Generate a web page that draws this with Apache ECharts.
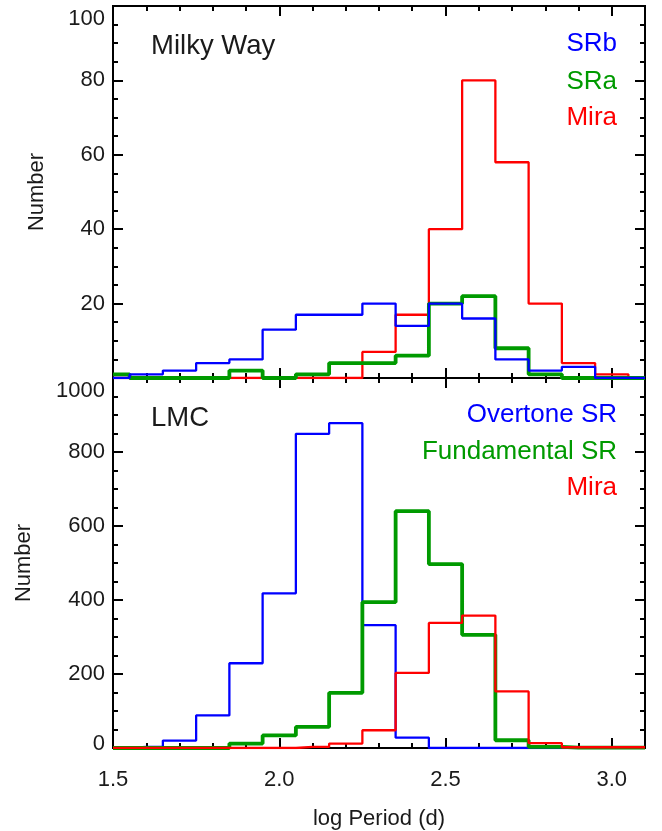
<!DOCTYPE html>
<html>
<head>
<meta charset="utf-8">
<script src="https://cdn.jsdelivr.net/npm/echarts@6/dist/echarts.min.js"></script>
<style>
html,body{margin:0;padding:0;background:#fff;}
#main{width:662px;height:831px;}
</style>
</head>
<body>
<div id="main"></div>
<script>
// Bin centers (log Period, bin width 0.1)
const binCenters = [1.5, 1.6, 1.7, 1.8, 1.9, 2.0, 2.1, 2.2, 2.3, 2.4, 2.5, 2.6, 2.7, 2.8, 2.9, 3.0, 3.1];

// Milky Way
const mwSRb  = [0, 1, 2, 4, 5, 13, 17, 17, 20, 14, 20, 16, 5, 2, 3, 0, 0];
const mwSRa  = [1, 0, 0, 0, 2, 0, 1, 4, 4, 6, 20, 22, 8, 1, 0, 0, 0];
const mwMira = [0, 0, 0, 0, 0, 0, 0, 0, 7, 17, 40, 80, 58, 20, 4, 1, 0];

// LMC
const lmcOvertone    = [0, 3, 20, 88, 229, 418, 849, 878, 332, 28, 0, 0, 0, 0, 0, 0, 0];
const lmcFundamental = [0, 0, 0, 0, 12, 34, 57, 149, 394, 640, 497, 306, 21, 3, 1, 1, 1];
const lmcMira        = [0, 0, 0, 0, 0, 0, 3, 12, 48, 203, 338, 358, 153, 13, 2, 2, 2];

const xMin = 1.5, xMax = 3.1;
const topYMax = 100, topYInterval = 20;
const botYMax = 1000, botYInterval = 200;

const BLUE = '#0000ff', GREEN = '#009a00', RED = '#ff0000';
const FONT = 'Liberation Sans, Helvetica, Arial, sans-serif';
const TXT = '#1a1a1a';

function pairs(vals) { return binCenters.map((c, i) => [c, vals[i]]); }

const grids = [
  {left: 113, top: 6, width: 532, height: 372},
  {left: 113, top: 378, width: 532, height: 371}
].map(g => Object.assign(g, {show: true, borderColor: '#000', borderWidth: 2, backgroundColor: 'transparent'}));

const xAxes = [];
[0, 1].forEach(gi => {
  const base = {type: 'value', gridIndex: gi, min: xMin, max: xMax, splitLine: {show: false},
    axisLine: {show: false, onZero: false}};
  // bottom major
  xAxes.push(Object.assign({}, base, {position: 'bottom', interval: 0.5,
    axisTick: {show: true, inside: true, length: 10, lineStyle: {color: '#000', width: 2}},
    axisLabel: {show: gi === 1, margin: 21, fontSize: 22, fontFamily: FONT, color: TXT,
      formatter: v => (Math.abs(v * 2 - Math.round(v * 2)) < 1e-6 ? v.toFixed(1) : '')},
    name: gi === 1 ? 'log Period (d)' : '', nameLocation: 'middle', nameGap: 60,
    nameTextStyle: {fontSize: 22, fontFamily: FONT, color: TXT}}));
  // bottom minor
  xAxes.push(Object.assign({}, base, {position: 'bottom', interval: 0.1,
    axisTick: {show: true, inside: true, length: 5, lineStyle: {color: '#000', width: 2}},
    axisLabel: {show: false}}));
  // top major
  xAxes.push(Object.assign({}, base, {position: 'top', interval: 0.5,
    axisTick: {show: true, inside: true, length: 10, lineStyle: {color: '#000', width: 2}},
    axisLabel: {show: false}}));
  // top minor
  xAxes.push(Object.assign({}, base, {position: 'top', interval: 0.1,
    axisTick: {show: true, inside: true, length: 5, lineStyle: {color: '#000', width: 2}},
    axisLabel: {show: false}}));
});

const labelRich = {
  mx: {fontSize: 22, fontFamily: FONT, color: TXT, padding: [26, 0, 0, 0]},
  mn: {fontSize: 22, fontFamily: FONT, color: TXT, padding: [0, 0, 8, 0]}
};

const yAxes = [];
[[0, topYMax, topYInterval, 65], [1, botYMax, botYInterval, 78]].forEach(([gi, ymax, yint, gap]) => {
  const base = {type: 'value', gridIndex: gi, min: 0, max: ymax, interval: yint,
    splitLine: {show: false}, axisLine: {show: false, onZero: false},
    axisTick: {show: true, inside: true, length: 10, lineStyle: {color: '#000', width: 2}},
    minorTick: {show: true, splitNumber: 4, length: 5, lineStyle: {color: '#000', width: 2}}};
  yAxes.push(Object.assign({}, base, {position: 'left',
    axisLabel: {show: true, margin: 8, fontSize: 22, fontFamily: FONT, color: TXT,
      showMinLabel: gi === 1, rich: labelRich,
      formatter: v => (v === ymax ? '{mx|' + v + '}' : (v === 0 ? '{mn|0}' : String(v)))},
    name: 'Number', nameLocation: 'middle', nameGap: gap, nameRotate: 90,
    nameTextStyle: {fontSize: 22, fontFamily: FONT, color: TXT}}));
  yAxes.push(Object.assign({}, base, {position: 'right', axisLabel: {show: false}}));
});

function stepSeries(gi, vals, color, width, z) {
  return {type: 'line', step: 'middle', xAxisIndex: gi * 4, yAxisIndex: gi * 2,
    data: pairs(vals), showSymbol: false, symbol: 'none', z: z,
    lineStyle: {color: color, width: width}, clip: true};
}

const series = [
  stepSeries(0, mwMira, RED, 2.3, 2),
  stepSeries(0, mwSRa, GREEN, 3.8, 3),
  stepSeries(0, mwSRb, BLUE, 2.3, 4),
  stepSeries(1, lmcOvertone, BLUE, 2.3, 2),
  stepSeries(1, lmcFundamental, GREEN, 3.8, 3),
  stepSeries(1, lmcMira, RED, 2.3, 4)
];

function txt(text, x, y, color, align, size) {
  return {type: 'text', z: 10, style: {text: text, x: x, y: y, fill: color, align: align,
    verticalAlign: 'middle', fontSize: size, fontFamily: FONT}};
}

const graphic = [
  txt('Milky Way', 151, 46, TXT, 'left', 27.5),
  txt('SRb', 617, 44, BLUE, 'right', 26),
  txt('SRa', 617, 81.5, GREEN, 'right', 26),
  txt('Mira', 617, 118, RED, 'right', 26),
  txt('LMC', 151, 418, TXT, 'left', 27.5),
  txt('Overtone SR', 617, 415, BLUE, 'right', 26),
  txt('Fundamental SR', 617, 451.5, GREEN, 'right', 26),
  txt('Mira', 617, 488, RED, 'right', 26)
];

const chart = echarts.init(document.getElementById('main'), null, {renderer: 'canvas'});
chart.setOption({
  animation: false,
  backgroundColor: '#fff',
  grid: grids,
  xAxis: xAxes,
  yAxis: yAxes,
  series: series,
  graphic: graphic
});
</script>
</body>
</html>
